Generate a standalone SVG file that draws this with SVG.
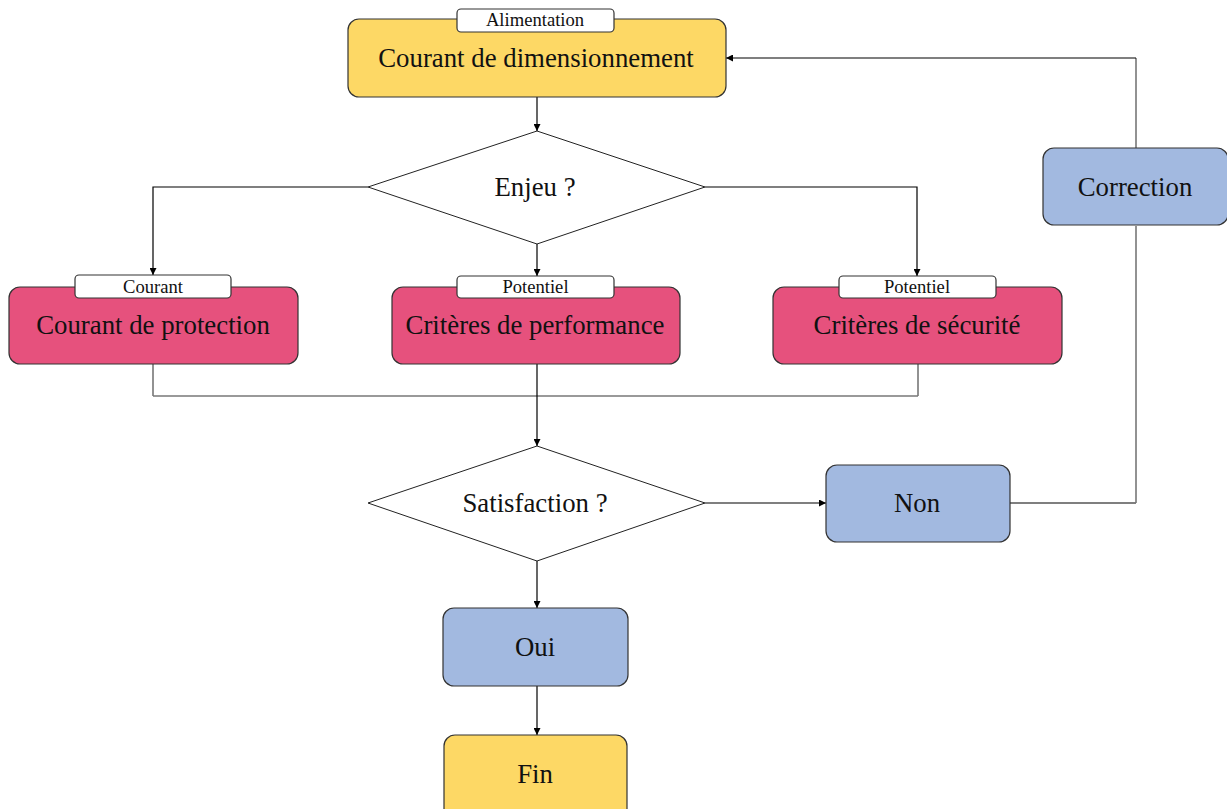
<svg xmlns="http://www.w3.org/2000/svg" width="1227" height="809" viewBox="0 0 1227 809">
<defs>
<marker id="ah" viewBox="0 0 10 10" refX="10" refY="5" markerWidth="7" markerHeight="7" markerUnits="userSpaceOnUse" orient="auto"><path d="M0,0 L10,5 L0,10 z" fill="#000"/></marker>
<style>
.box{stroke:#333;stroke-width:1.2}
.y{fill:#FDD865}
.r{fill:#E6517D}
.b{fill:#A2B9E0}
.lbl{fill:#fff;stroke:#333;stroke-width:1.2}
.dia{fill:#fff;stroke:#222;stroke-width:1}
.t{font-family:"Liberation Serif","DejaVu Serif",serif;font-size:26.8px;fill:#111;text-anchor:middle}
.s{font-family:"Liberation Serif","DejaVu Serif",serif;font-size:18.6px;fill:#111;text-anchor:middle}
.c{fill:none;stroke:#000;stroke-width:1.2}
.g{fill:none;stroke:#777;stroke-width:1.6}
</style>
</defs>
<rect width="1227" height="809" fill="#fff"/>
<g id="connectors">
<path class="c" d="M537,97 V131" marker-end="url(#ah)"/>
<path class="c" d="M368,187 H153 V275" marker-end="url(#ah)"/>
<path class="c" d="M705,187 H917 V276" marker-end="url(#ah)"/>
<path class="c" d="M537,244 V276" marker-end="url(#ah)"/>
<path class="g" d="M153,364 V396"/>
<path class="g" d="M918,364 V396"/>
<path class="g" d="M153,396 H918"/>
<path class="c" d="M537,364 V446" marker-end="url(#ah)"/>
<path class="c" d="M705,503 H826" marker-end="url(#ah)"/>
<path class="c" d="M1010,503 H1136"/>
<path class="g" d="M1136,503 V226"/>
<path class="g" d="M1136,148 V58"/>
<path class="c" d="M1136,58 H726" marker-end="url(#ah)"/>
<path class="c" d="M537,561 V608" marker-end="url(#ah)"/>
<path class="c" d="M537,686 V735" marker-end="url(#ah)"/>
</g>
<g id="n-dim">
<rect class="box y" x="348" y="19" width="378" height="78" rx="11"/>
<rect class="lbl" x="457" y="9" width="157" height="23" rx="4"/>
<text class="s" x="535" y="26">Alimentation</text>
<text class="t" x="536" y="67">Courant de dimensionnement</text>
</g>
<g id="n-enjeu">
<polygon class="dia" points="537,131 705,187 537,244 368,187"/>
<text class="t" x="535" y="196">Enjeu ?</text>
</g>
<g id="n-prot">
<rect class="box r" x="9" y="287" width="289" height="77" rx="11"/>
<rect class="lbl" x="75" y="275" width="156" height="23" rx="4"/>
<text class="s" x="153" y="292.5">Courant</text>
<text class="t" x="153" y="334">Courant de protection</text>
</g>
<g id="n-perf">
<rect class="box r" x="392" y="287" width="288" height="77" rx="11"/>
<rect class="lbl" x="457" y="276" width="157" height="22" rx="4"/>
<text class="s" x="535.5" y="293">Potentiel</text>
<text class="t" x="535" y="334">Critères de performance</text>
</g>
<g id="n-secu">
<rect class="box r" x="773" y="287" width="289" height="77" rx="11"/>
<rect class="lbl" x="839" y="276" width="157" height="22" rx="4"/>
<text class="s" x="917" y="293">Potentiel</text>
<text class="t" x="917" y="334">Critères de sécurité</text>
</g>
<g id="n-satis">
<polygon class="dia" points="537,446 705,503 537,561 368,503"/>
<text class="t" x="535" y="512">Satisfaction ?</text>
</g>
<g id="n-non">
<rect class="box b" x="826" y="465" width="184" height="77" rx="11"/>
<text class="t" x="917" y="512">Non</text>
</g>
<g id="n-corr">
<rect class="box b" x="1043" y="148" width="185" height="77" rx="11"/>
<text class="t" x="1135" y="196">Correction</text>
</g>
<g id="n-oui">
<rect class="box b" x="443" y="608" width="185" height="78" rx="11"/>
<text class="t" x="535" y="656">Oui</text>
</g>
<g id="n-fin">
<rect class="box y" x="444" y="735" width="183" height="85" rx="11"/>
<text class="t" x="535" y="783">Fin</text>
</g>
</svg>
